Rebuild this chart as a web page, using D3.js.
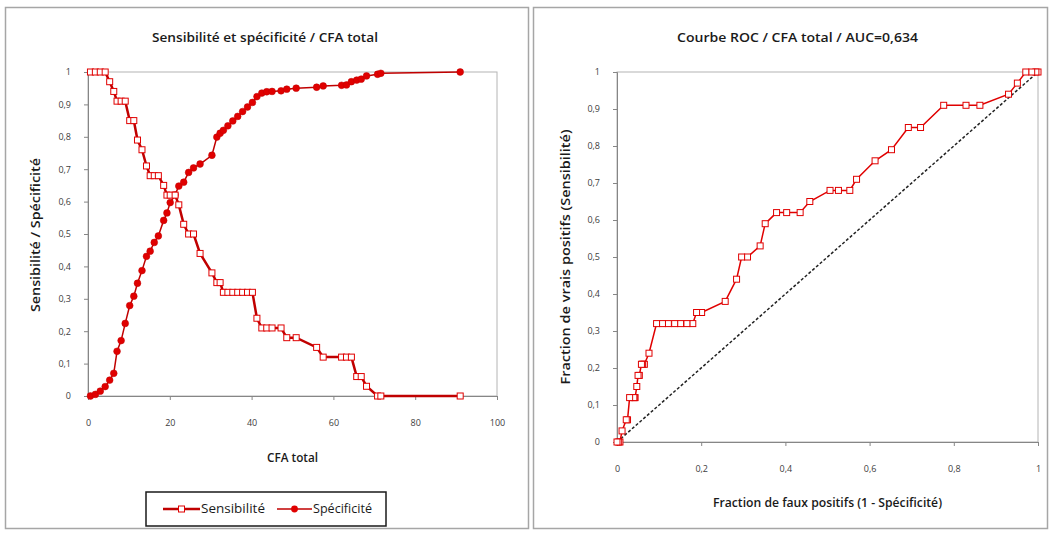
<!DOCTYPE html>
<html>
<head>
<meta charset="utf-8">
<script src="https://cdn.jsdelivr.net/npm/d3@7"></script>
<style>
  body { margin: 0; background: #fff; }
  svg { display: block; }
  text { font-family: "Open Sans", "Liberation Sans", sans-serif; }
</style>
</head>
<body>
<svg id="chart" width="1050" height="533"></svg>
<script>
// Seuils de CFA total et performances associées
const cfa = [0.6, 1.8, 3.0, 4.2, 5.3, 6.3, 7.1, 8.1, 9.1, 10.2, 11.2, 12.1, 13.2, 14.3, 15.2, 16.2, 17.2,
  18.5, 19.3, 20.1, 21.3, 22.2, 23.4, 24.6, 25.8, 27.4, 30.3, 31.5, 32.3, 33.1, 34.2, 35.4, 36.6, 37.8,
  39.0, 40.2, 41.3, 42.5, 43.7, 45.0, 47.2, 48.6, 50.9, 55.9, 57.5, 62.0, 63.2, 64.4, 65.7, 66.8, 68.1,
  70.8, 71.6, 91.0];
const sensibilite = [1.00, 1.00, 1.00, 1.00, 0.97, 0.94, 0.91, 0.91, 0.91, 0.85, 0.85, 0.79, 0.76, 0.71, 0.68, 0.68, 0.68,
  0.65, 0.62, 0.62, 0.62, 0.59, 0.53, 0.50, 0.50, 0.44, 0.38, 0.35, 0.35, 0.32, 0.32, 0.32, 0.32, 0.32,
  0.32, 0.32, 0.24, 0.21, 0.21, 0.21, 0.21, 0.18, 0.18, 0.15, 0.12, 0.12, 0.12, 0.12, 0.06, 0.06, 0.03,
  0.00, 0.00, 0.00];
const specificite = [0.000, 0.005, 0.015, 0.029, 0.049, 0.070, 0.138, 0.171, 0.224, 0.279, 0.308, 0.348, 0.387, 0.431, 0.447, 0.474, 0.494,
  0.542, 0.565, 0.597, 0.621, 0.648, 0.660, 0.690, 0.704, 0.716, 0.743, 0.799, 0.811, 0.820, 0.834, 0.849, 0.863, 0.878,
  0.892, 0.906, 0.924, 0.935, 0.939, 0.940, 0.942, 0.947, 0.950, 0.953, 0.957, 0.959, 0.960, 0.970, 0.975, 0.978, 0.988,
  0.993, 0.996, 1.000];

const probTicks = [0, 0.1, 0.2, 0.3, 0.4, 0.5, 0.6, 0.7, 0.8, 0.9, 1];
const cfaTicks = [0, 20, 40, 60, 80, 100];
const fprTicks = [0, 0.2, 0.4, 0.6, 0.8, 1];

const titreGauche = "Sensibilité et spécificité / CFA total";
const titreDroite = "Courbe ROC / CFA total / AUC=0,634";

const fmt = v => String(+v.toFixed(2)).replace(".", ",");

const RED = "#e00000";
const DARK = "#c00000";
const INK = "#1a1a1a";

const rows = cfa.map((c, i) => ({ cfa: c, sens: sensibilite[i], spec: specificite[i] }));

const svg = d3.select("#chart");

// Cadres des deux graphiques
svg.append("rect").attr("x", 5.5).attr("y", 7.5).attr("width", 523).attr("height", 521)
  .attr("fill", "#fff").attr("stroke", "#a6a6a6").attr("stroke-width", 1.5);
svg.append("rect").attr("x", 533.5).attr("y", 7.5).attr("width", 514).attr("height", 521)
  .attr("fill", "#fff").attr("stroke", "#a6a6a6").attr("stroke-width", 1.5);

function styleAxis(g) {
  g.select(".domain").attr("stroke", "#868686").attr("stroke-width", 1);
  g.selectAll(".tick line").attr("stroke", "#868686");
  g.selectAll(".tick text").attr("fill", "#404040").style("font-size", "9px");
}

function plotFrame(x, y) {
  const [x0, x1] = x.range();
  const [y0, y1] = y.range();
  svg.append("rect").attr("x", x0).attr("y", y1).attr("width", x1 - x0).attr("height", y0 - y1)
    .attr("fill", "none").attr("stroke", "#b4b4b4").attr("stroke-width", 1);
}

// Texte en gras, étiré à une longueur donnée
function label(x, y, txt, size, len, rotate) {
  const t = svg.append("text")
    .attr("text-anchor", "middle")
    .style("font-size", size + "px").style("font-weight", 600).attr("fill", INK)
    .attr("textLength", len).attr("lengthAdjust", "spacingAndGlyphs")
    .text(txt);
  if (rotate) t.attr("transform", `translate(${x},${y}) rotate(-90)`);
  else t.attr("x", x).attr("y", y);
  return t;
}

// ---------- Graphique de gauche : sensibilité et spécificité ----------
const xL = d3.scaleLinear().domain([0, 100]).range([88, 497]);
const yL = d3.scaleLinear().domain([0, 1]).range([396, 72]);
plotFrame(xL, yL);

svg.append("g").attr("transform", `translate(0,${yL(0)})`)
  .call(d3.axisBottom(xL).tickValues(cfaTicks).tickFormat(d => d).tickSizeOuter(0).tickSize(4).tickPadding(20))
  .call(styleAxis);
svg.append("g").attr("transform", `translate(${xL(0)},0)`)
  .call(d3.axisLeft(yL).tickValues(probTicks).tickFormat(fmt).tickSizeOuter(0).tickSize(4).tickPadding(13))
  .call(styleAxis);

const lineSens = d3.line().x(d => xL(d.cfa)).y(d => yL(d.sens));
const lineSpec = d3.line().x(d => xL(d.cfa)).y(d => yL(d.spec));

svg.append("path").datum(rows).attr("d", lineSpec)
  .attr("fill", "none").attr("stroke", DARK).attr("stroke-width", 1.5);
svg.append("path").datum(rows).attr("d", lineSens)
  .attr("fill", "none").attr("stroke", DARK).attr("stroke-width", 2.5);

svg.append("g").selectAll("circle").data(rows).join("circle")
  .attr("cx", d => xL(d.cfa)).attr("cy", d => yL(d.spec)).attr("r", 3.4)
  .attr("fill", RED).attr("stroke", DARK).attr("stroke-width", 0.5);
svg.append("g").selectAll("rect").data(rows).join("rect")
  .attr("x", d => xL(d.cfa) - 3).attr("y", d => yL(d.sens) - 3).attr("width", 6).attr("height", 6)
  .attr("fill", "#fff").attr("stroke", RED).attr("stroke-width", 1);

label(265, 42, titreGauche, 13, 226);
label(292.5, 462, "CFA total", 12, 51);
label(40, 235, "Sensibilité / Spécificité", 12.5, 154, true);

// Légende
const leg = svg.append("g");
leg.append("rect").attr("x", 146).attr("y", 492).attr("width", 240).attr("height", 34)
  .attr("fill", "#fff").attr("stroke", INK).attr("stroke-width", 1.5);
leg.append("line").attr("x1", 163).attr("x2", 200).attr("y1", 509).attr("y2", 509)
  .attr("stroke", DARK).attr("stroke-width", 2.5);
leg.append("rect").attr("x", 178.5).attr("y", 506).attr("width", 6).attr("height", 6)
  .attr("fill", "#fff").attr("stroke", RED);
leg.append("text").attr("x", 201).attr("y", 513).style("font-size", "12px").attr("fill", INK)
  .attr("textLength", 64).attr("lengthAdjust", "spacingAndGlyphs").text("Sensibilité");
leg.append("line").attr("x1", 277).attr("x2", 312).attr("y1", 509).attr("y2", 509)
  .attr("stroke", DARK).attr("stroke-width", 1.5);
leg.append("circle").attr("cx", 294.5).attr("cy", 509).attr("r", 3.4).attr("fill", RED);
leg.append("text").attr("x", 313).attr("y", 513).style("font-size", "12px").attr("fill", INK)
  .attr("textLength", 59).attr("lengthAdjust", "spacingAndGlyphs").text("Spécificité");

// ---------- Graphique de droite : courbe ROC ----------
const xR = d3.scaleLinear().domain([0, 1]).range([617, 1038]);
const yR = d3.scaleLinear().domain([0, 1]).range([442, 72]);
plotFrame(xR, yR);

svg.append("g").attr("transform", `translate(0,${yR(0)})`)
  .call(d3.axisBottom(xR).tickValues(fprTicks).tickFormat(fmt).tickSizeOuter(0).tickSize(4).tickPadding(20))
  .call(styleAxis);
svg.append("g").attr("transform", `translate(${xR(0)},0)`)
  .call(d3.axisLeft(yR).tickValues(probTicks).tickFormat(fmt).tickSizeOuter(0).tickSize(4).tickPadding(13))
  .call(styleAxis);

// Diagonale de référence (hasard)
svg.append("line")
  .attr("x1", xR(0)).attr("y1", yR(0)).attr("x2", xR(1)).attr("y2", yR(1))
  .attr("stroke", "#222").attr("stroke-width", 1.5).attr("stroke-dasharray", "3,2");

const roc = rows.map(d => ({ fpr: 1 - d.spec, tpr: d.sens }));
const lineRoc = d3.line().x(d => xR(d.fpr)).y(d => yR(d.tpr));
svg.append("path").datum(roc).attr("d", lineRoc)
  .attr("fill", "none").attr("stroke", RED).attr("stroke-width", 1.5);
svg.append("g").selectAll("rect").data(roc).join("rect")
  .attr("x", d => xR(d.fpr) - 3).attr("y", d => yR(d.tpr) - 3).attr("width", 6).attr("height", 6)
  .attr("fill", "#fff").attr("stroke", RED).attr("stroke-width", 1);

label(797.5, 42, titreDroite, 13, 241);
label(827.5, 507, "Fraction de faux positifs (1 - Spécificité)", 12, 229);
label(570, 257, "Fraction de vrais positifs (Sensibilité)", 12.5, 255, true);
</script>
</body>
</html>
